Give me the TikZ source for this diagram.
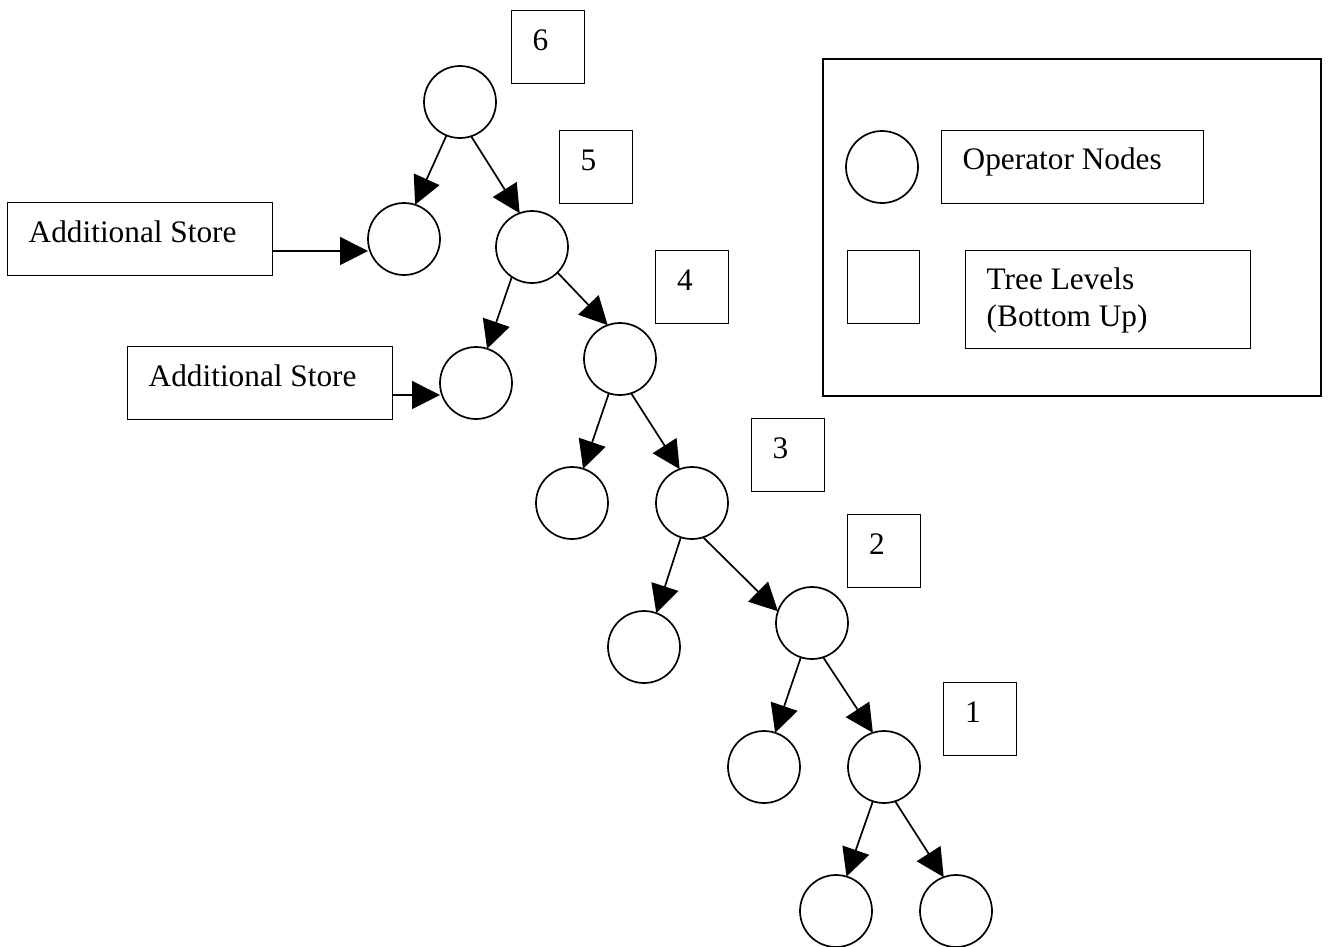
\documentclass[tikz,border=0pt]{standalone}
\usepackage{fontspec}
\setmainfont{Liberation Serif}
\usetikzlibrary{arrows.meta,positioning}
\begin{document}
\begin{tikzpicture}[x=1pt,y=-1pt,
  opnode/.style={circle,draw,line width=1.7pt,minimum size=72pt,inner sep=0pt,outer sep=0pt},
  lvlbox/.style={rectangle,draw,line width=1pt,minimum width=73pt,minimum height=73pt,inner sep=0pt},
  txtbox/.style={rectangle,draw,line width=1pt,inner sep=0pt},
  txt/.style={anchor=base west,inner sep=0pt,font=\fontsize{31.3}{37}\selectfont,align=left},
  edge/.style={line width=1.7pt,-{Triangle[length=28pt,width=28pt]}},
  framebox/.style={rectangle,draw,line width=1.5pt,inner sep=0pt}]
\useasboundingbox (0,0) rectangle (1330,946);

% operator tree
\node[opnode] (n6)  at (460,102) {};
\node[opnode] (n5l) at (404,239) {};
\node[opnode] (n5)  at (532,247) {};
\node[opnode] (n4l) at (476,383) {};
\node[opnode] (n4)  at (620,359) {};
\node[opnode] (n3l) at (572,503) {};
\node[opnode] (n3)  at (692,503) {};
\node[opnode] (n2l) at (644,647) {};
\node[opnode] (n2)  at (812,623) {};
\node[opnode] (n1l) at (764,767) {};
\node[opnode] (n1)  at (884,767) {};
\node[opnode] (n0l) at (836,911) {};
\node[opnode] (n0r) at (956,911) {};

\draw[edge] (n6.-112) -- (n5l.72);
\draw[edge] (n6.-72)  -- (n5.110);
\draw[edge] (n5.-124) -- (n4l.72);
\draw[edge] (n5.-45)  -- (n4.110);
\draw[edge] (n4.-108) -- (n3l.72);
\draw[edge] (n4.-72)  -- (n3.110);
\draw[edge] (n3.-108) -- (n2l.70);
\draw[edge] (n3.-72)  -- (n2.161);
\draw[edge] (n2.-108) -- (n1l.72);
\draw[edge] (n2.-72)  -- (n1.108);
\draw[edge] (n1.-108) -- (n0l.73);
\draw[edge] (n1.-72)  -- (n0r.110);

% level markers
\node[lvlbox] (l6) at (547.5,46.5) {};
\node[lvlbox] (l5) at (595.5,166.5) {};
\node[lvlbox] (l4) at (692,286.5) {};
\node[lvlbox] (l3) at (787.5,454.5) {};
\node[lvlbox] (l2) at (884,550.5) {};
\node[lvlbox] (l1) at (980,718.5) {};
\foreach \b/\t in {l6/6,l5/5,l4/4,l3/3,l2/2,l1/1}
  \node[txt] at ([xshift=22pt,yshift=-41pt]\b.north west) {\t};

% additional stores
\node[txtbox,minimum width=265pt,minimum height=73pt] (s1) at (139.5,238.5) {};
\node[txt] at ([xshift=22pt,yshift=-41pt]s1.north west) {Additional Store};
\node[txtbox,minimum width=265pt,minimum height=73pt] (s2) at (259.5,382.5) {};
\node[txt] at ([xshift=22pt,yshift=-41pt]s2.north west) {Additional Store};
\coordinate (s1e) at (s1.east |- 0,251);
\coordinate (s2e) at (s2.east |- 0,395);
\draw[edge] (s1e) -- (s1e -| n5l.west);
\draw[edge] (s2e) -- (s2e -| n4l.west);

% legend
\node[framebox,minimum width=498pt,minimum height=337pt] (leg) at (1072,227.5) {};
\node[opnode] (legc) at (882,167) {};
\node[txtbox,minimum width=262pt,minimum height=73pt] (lego) at (1072,166.5) {};
\node[txt] at ([xshift=22pt,yshift=-40pt]lego.north west) {Operator Nodes};
\node[lvlbox,minimum width=72pt] (legs) at (883,286.5) {};
\node[txtbox,minimum width=285pt,minimum height=98pt] (legt) at (1107.5,299) {};
\node[txt] at ([xshift=22pt,yshift=-40pt]legt.north west) {Tree Levels};
\node[txt] at ([xshift=22pt,yshift=-77pt]legt.north west) {(Bottom Up)};
\end{tikzpicture}
\end{document}
